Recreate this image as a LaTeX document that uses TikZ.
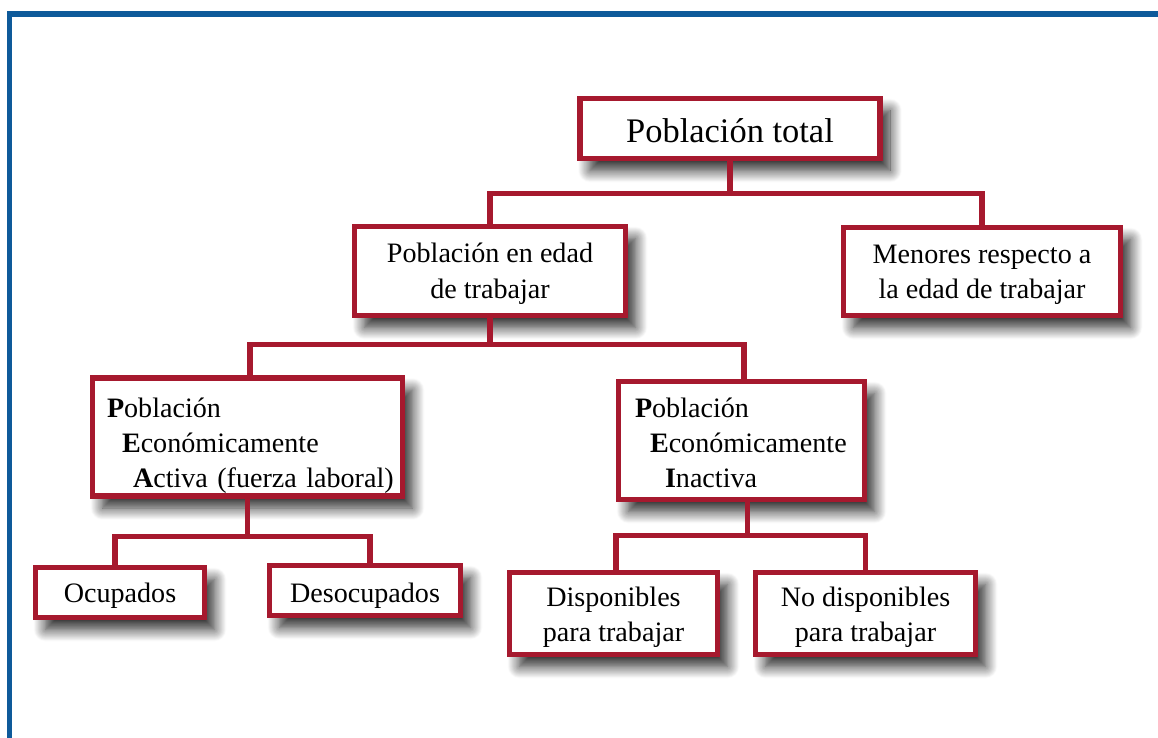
\documentclass[tikz,border=0pt]{standalone}
\usepackage{fontspec}
\setmainfont{Liberation Serif}
\usetikzlibrary{positioning,shadows.blur}
\definecolor{BoxRed}{HTML}{A6192E}
\definecolor{FrameBlue}{HTML}{0E5A9A}
\newcommand{\alto}[1]{\rule{0pt}{#1}}
\newcommand{\bajo}{\rule[-6pt]{0pt}{6pt}}

\begin{document}
\begin{tikzpicture}[
  box/.style={draw=BoxRed, line width=3.9pt, fill=white, align=center, inner sep=0pt, font=\fontsize{20}{25}\selectfont, blur shadow={shadow xshift=0.25cm, shadow yshift=-0.3cm, shadow blur radius=0.3cm, shadow blur steps=16, shadow opacity=85}},
  sigla/.style={box, align=left, minimum height=2.95cm},
  link/.style={draw=BoxRed, line width=3.6pt}
]
\useasboundingbox (0,0) rectangle (28.95,-18.45);
\draw[FrameBlue, line width=3.6pt] (0.2375,-18.45) -- (0.2375,-0.35) -- (28.95,-0.35);

\node[box, minimum width=7.5cm, minimum height=1.5cm, font=\fontsize{24.5}{29}\selectfont] (tot) at (18.25,-3.2125) {\alto{26.6pt}Población total\bajo};
\node[box, minimum width=6.775cm, minimum height=2.225cm] (pet) at (12.25,-6.775) {\alto{19.6pt}Población en edad\\de trabajar\bajo};
\node[box, minimum width=6.925cm, minimum height=2.2cm] (men) at (24.55,-6.7875) {\alto{19pt}Menores respecto a\\la edad de trabajar\bajo};
\node[sigla, text width=7.025cm, inner xsep=0.3625cm] (pea) at (6.1875,-10.925) {\alto{27.6pt}\textbf{P}oblación\\\hspace*{0.375cm}\textbf{E}conómicamente\\\mbox{\hspace*{0.65cm}\textbf{A}ctiva (fuerza laboral)}\bajo};
\node[sigla, text width=5.325cm, inner xsep=0.4125cm] (pei) at (18.5375,-11.0125) {\alto{22.6pt}\textbf{P}oblación\\\hspace*{0.375cm}\textbf{E}conómicamente\\\hspace*{0.75cm}\textbf{I}nactiva\bajo};
\node[box, minimum width=4.225cm, minimum height=1.25cm] (ocu) at (3.0,-14.8125) {\alto{19.6pt}Ocupados\bajo};
\node[box, minimum width=4.775cm, minimum height=1.25cm] (des) at (9.125,-14.7625) {\alto{22.4pt}Desocupados\bajo};
\node[box, minimum width=5.2cm, minimum height=2.05cm] (dis) at (15.3375,-15.3375) {\alto{20.4pt}Disponibles\\para trabajar\bajo};
\node[box, minimum width=5.5cm, minimum height=2.05cm] (nodis) at (21.6375,-15.3375) {\alto{20.4pt}No disponibles\\para trabajar\bajo};

% ramas del arbol
\draw[link] (tot.south) -- ++(0,-0.8125) -| (pet.north);
\draw[link] (tot.south) -- ++(0,-0.8125) -| (men.north);
\draw[link] (pet.south) -- ++(0,-0.6625) -| ([xshift=0.0625cm]pea.north);
\draw[link] (pet.south) -- ++(0,-0.6625) -| ([xshift=0.0625cm]pei.north);
\draw[link] (pea.south) -- ++(0,-0.9375) -| ([xshift=-0.125cm]ocu.north);
\draw[link] (pea.south) -- ++(0,-0.9375) -| ([xshift=0.125cm]des.north);
\draw[link] ([xshift=0.15cm]pei.south) -- ++(0,-0.8375) -| ([xshift=0.0625cm]dis.north);
\draw[link] ([xshift=0.15cm]pei.south) -- ++(0,-0.8375) -| (nodis.north);
\end{tikzpicture}
\end{document}
